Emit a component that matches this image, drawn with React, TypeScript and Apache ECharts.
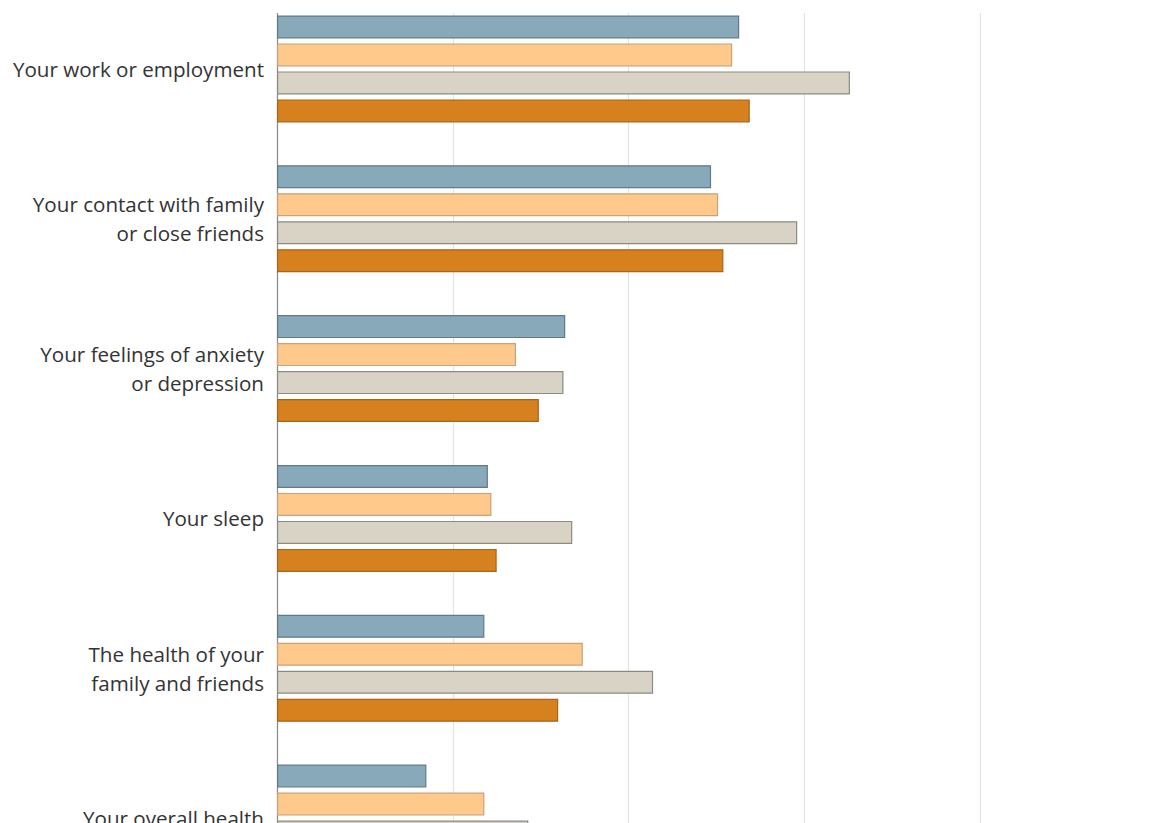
import React, { useEffect, useRef } from "react";
import * as echarts from "echarts";

const categories = [
  "Your work or employment",
  "Your contact with family\nor close friends",
  "Your feelings of anxiety\nor depression",
  "Your sleep",
  "The health of your\nfamily and friends",
  "Your overall health",
];

const seriesA = [26.3, 24.7, 16.4, 12.0, 11.8, 8.5];
const seriesB = [25.9, 25.1, 13.6, 12.2, 17.4, 11.8];
const seriesC = [32.6, 29.6, 16.3, 16.8, 21.4, 14.3];
const seriesD = [26.9, 25.4, 14.9, 12.5, 16.0, 12.0];

const xTicks = [0, 10, 20, 30, 40];

const TOP_OFFSET = 6;
const CHART_H = 899;

export default function App() {
  const ref = useRef<HTMLDivElement>(null);
  useEffect(() => {
    document.body.style.margin = "0";
    document.body.style.overflow = "hidden";
    const chart = echarts.init(ref.current!, null, { renderer: "svg" });
    const mk = (name: string, data: number[], color: string, border: string) => ({
      name,
      type: "bar",
      data,
      barWidth: 23,
      barGap: "21.7%",
      itemStyle: { color, borderColor: border, borderWidth: 1.2 },
    });
    chart.setOption({
      animation: false,
      backgroundColor: "#ffffff",
      grid: { left: 277, right: 169, top: 0, bottom: 0, containLabel: false },
      xAxis: {
        type: "value",
        min: xTicks[0],
        max: xTicks[xTicks.length - 1],
        interval: 10,
        axisLabel: { show: false },
        axisLine: { show: false },
        axisTick: { show: false },
        splitLine: { show: true, lineStyle: { color: "#e3e3e3", width: 1.2 } },
      },
      yAxis: {
        type: "category",
        inverse: true,
        data: categories,
        axisLine: { show: true, lineStyle: { color: "#8a8a8a", width: 1.2 } },
        axisTick: { show: false },
        axisLabel: {
          margin: 13,
          fontSize: 20.6,
          lineHeight: 29,
          color: "#333333",
          fontFamily: "'Open Sans', 'Noto Sans', sans-serif",
          align: "right",
        },
      },
      series: [
        mk("A", seriesA, "#88a9ba", "#5f7a88"),
        mk("B", seriesB, "#fec98b", "#c8a27a"),
        mk("C", seriesC, "#d9d3c6", "#8b8b82"),
        mk("D", seriesD, "#d6801e", "#a86419"),
      ],
      graphic: [
        {
          type: "rect",
          z: 100,
          shape: { x: 270, y: 0, width: 879, height: 13 + TOP_OFFSET },
          style: { fill: "#ffffff" },
        },
      ],
    });
    return () => chart.dispose();
  }, []);
  return (
    <div style={{ width: 1149, height: 823, overflow: "hidden", position: "relative" }}>
      <div
        ref={ref}
        style={{ position: "absolute", left: 0, top: -TOP_OFFSET, width: 1149, height: CHART_H }}
      />
    </div>
  );
}
